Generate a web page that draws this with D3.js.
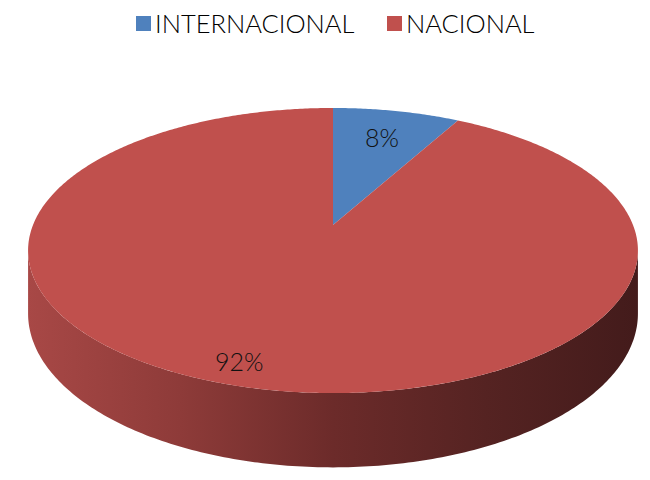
<!DOCTYPE html>
<html>
<head>
<meta charset="utf-8">
<script src="https://cdn.jsdelivr.net/npm/d3@7"></script>
<style>
  html, body { margin: 0; padding: 0; background: #fff; }
  svg { display: block; }
</style>
</head>
<body>
<svg id="chart" width="650" height="480"></svg>
<script>
// ---- data ----
const categories = ["INTERNACIONAL", "NACIONAL"];
const values = [8, 92];
const labels = ["8%", "92%"];
const colors = ["#4F81BD", "#C0504D"];

// ---- layout ----
const W = 650, H = 480;
const cx = 333, cy = 225;   // projected pie centre
const xs = 300;             // horizontal radius scale
const a = 138;              // vertical radius scale
const b = 0.179;            // perspective factor
const depth = 61;           // thickness

const svg = d3.select("#chart");
const defs = svg.append("defs");

function proj(theta, r, z) {
  const v = -Math.cos(theta) * r;
  const d = 1 - b * v;
  return [cx + xs * r * Math.sin(theta) / d, cy + a * v / d + z * depth / d];
}

const pie = d3.pie().sort(null).value(d => d)(values);

// side (visible front rim)
const thR = Math.PI - Math.acos(b);   // right silhouette
const thL = Math.PI + Math.acos(b);   // left silhouette
const steps = d3.range(0, 201).map(i => thR + (thL - thR) * i / 200);

const grad = defs.append("linearGradient")
  .attr("id", "sideGrad").attr("gradientUnits", "userSpaceOnUse")
  .attr("x1", cx - xs * 1.02).attr("x2", cx + xs * 1.02).attr("y1", 0).attr("y2", 0);
[[0, "#a84846"], [0.25, "#8e3b39"], [0.5, "#6c2b2a"], [0.75, "#552322"], [1, "#431b1b"]]
  .forEach(([o, c]) => grad.append("stop").attr("offset", o).attr("stop-color", c));

const sidePts = steps.map(t => proj(t, 1, 0)).concat(steps.slice().reverse().map(t => proj(t, 1, 1)));
svg.append("path")
  .attr("d", d3.line()(sidePts) + "Z")
  .attr("fill", "url(#sideGrad)");

// top slices
pie.forEach((s, i) => {
  const n = Math.max(2, Math.ceil((s.endAngle - s.startAngle) / 0.01));
  const pts = [proj(0, 0, 0)].concat(d3.range(0, n + 1).map(k => proj(s.startAngle + (s.endAngle - s.startAngle) * k / n, 1, 0)));
  svg.append("path")
    .attr("d", d3.line()(pts) + "Z")
    .attr("fill", colors[i]);
});

// labels
const labelR = [0.74, 0.88];
const labelShift = [0, 0.055];
pie.forEach((s, i) => {
  const mid = (s.startAngle + s.endAngle) / 2 + labelShift[i];
  const p = proj(mid, labelR[i], 0);
  svg.append("text")
    .attr("x", p[0]).attr("y", p[1])
    .attr("text-anchor", "middle").attr("dominant-baseline", "central")
    .attr("font-family", "Lato, 'DejaVu Sans', sans-serif")
    .attr("font-weight", 300)
    .attr("font-size", 25)
    .attr("fill", "#111")
    .text(labels[i]);
});

// legend
const legendX = [136, 387];
categories.forEach((c, i) => {
  const g = svg.append("g").attr("transform", `translate(${legendX[i]},0)`);
  g.append("rect").attr("x", 0).attr("y", 16).attr("width", 15).attr("height", 15).attr("fill", colors[i]);
  g.append("text").attr("x", 19).attr("y", 33)
    .attr("font-family", "Lato, 'DejaVu Sans', sans-serif")
    .attr("font-weight", 300)
    .attr("font-size", 25.5)
    .attr("fill", "#000")
    .text(c);
});
</script>
</body>
</html>
